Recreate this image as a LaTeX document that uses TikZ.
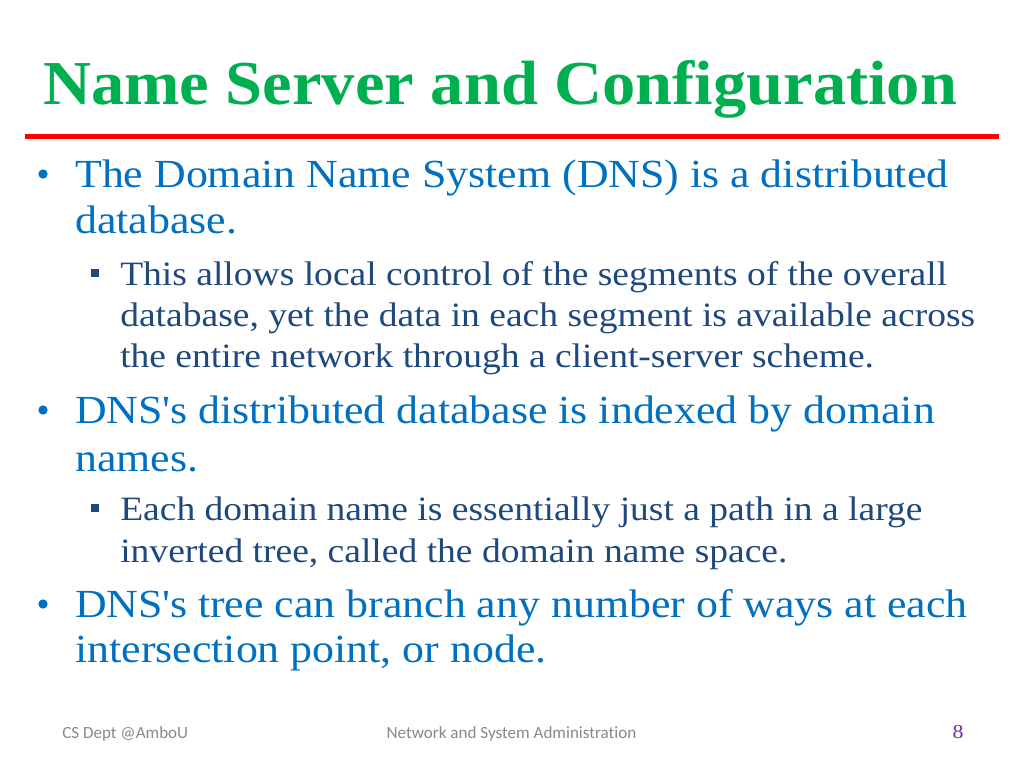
\documentclass[tikz,border=0pt]{standalone}
\usepackage{fontspec}
\setmainfont{Liberation Serif}[FakeStretch=1.10]
\newfontfamily\titlefont{Liberation Serif Bold}[FakeStretch=1.063]
\newfontfamily\footfont{Carlito}[Ligatures=NoCommon]
\definecolor{titlegreen}{HTML}{00B050}
\definecolor{rulered}{HTML}{FF0000}
\definecolor{mainblue}{HTML}{0070C0}
\definecolor{subblue}{HTML}{1F497D}
\definecolor{footgray}{HTML}{898989}
\definecolor{numpurple}{HTML}{7030A0}
\tikzset{
  ttl/.style={anchor=base west, inner sep=0pt, text=titlegreen, font=\titlefont\fontsize{46.9}{56}\selectfont},
  lvlone/.style={anchor=base west, inner sep=0pt, text=mainblue, font=\fontsize{29.9}{35}\selectfont},
  lvltwo/.style={anchor=base west, inner sep=0pt, text=subblue, font=\fontsize{25.6}{31}\selectfont},
  dot/.style={circle, fill=mainblue, inner sep=0pt, minimum size=7pt},
  sq/.style={rectangle, fill=subblue, inner sep=0pt, minimum size=5.8pt},
  foot/.style={anchor=base west, inner sep=0pt, text=footgray, font=\footfont\fontsize{12.8}{15}\selectfont},
}
\newcommand{\apos}{\textquotesingle}
\begin{document}
\begin{tikzpicture}[x=0.75pt, y=-0.75pt]
\useasboundingbox[fill=white] (0,0) rectangle (1024,768);
% title and rule
\node[ttl] (title) at (43,104) {Name Server and Configuration};
\coordinate (rl) at (25,136.5);
\coordinate (rr) at (999,136.5);
\draw[rulered, line width=3.2pt] (rl) -- (rr);
% first bullet
\node[dot] (dot1) at (43,174) {};
\node[lvlone] (b1a) at (75,187) {The Domain Name System (DNS) is a distributed};
\node[lvlone] (b1b) at (75,233) {database.};
\node[sq] (sq1) at (95,273) {};
\node[lvltwo] (s1a) at (120,285) {This allows local control of the segments of the overall};
\node[lvltwo] (s1b) at (120,326) {database, yet the data in each segment is available across};
\node[lvltwo] (s1c) at (120,367) {the entire network through a client-server scheme.};
% second bullet
\node[dot] (dot2) at (43,410) {};
\node[lvlone] (b2a) at (75,423) {DNS\apos s distributed database is indexed by domain};
\node[lvlone] (b2b) at (75,471) {names.};
\node[sq] (sq2) at (95,508) {};
\node[lvltwo] (s2a) at (120,520) {Each domain name is essentially just a path in a large};
\node[lvltwo] (s2b) at (120,562) {inverted tree, called the domain name space.};
% third bullet
\node[dot] (dot3) at (43,604) {};
\node[lvlone] (b3a) at (75,617) {DNS\apos s tree can branch any number of ways at each};
\node[lvlone] (b3b) at (75,662) {intersection point, or node.};
% footer
\node[foot] (fl) at (62,738) {CS Dept @AmboU};
\node[foot, anchor=base] (fc) at (511.5,738) {Network and System Administration};
\node[anchor=base, inner sep=0pt, text=numpurple, font=\fontsize{14.9}{17}\selectfont] (fr) at (958,738) {8};
\end{tikzpicture}
\end{document}
